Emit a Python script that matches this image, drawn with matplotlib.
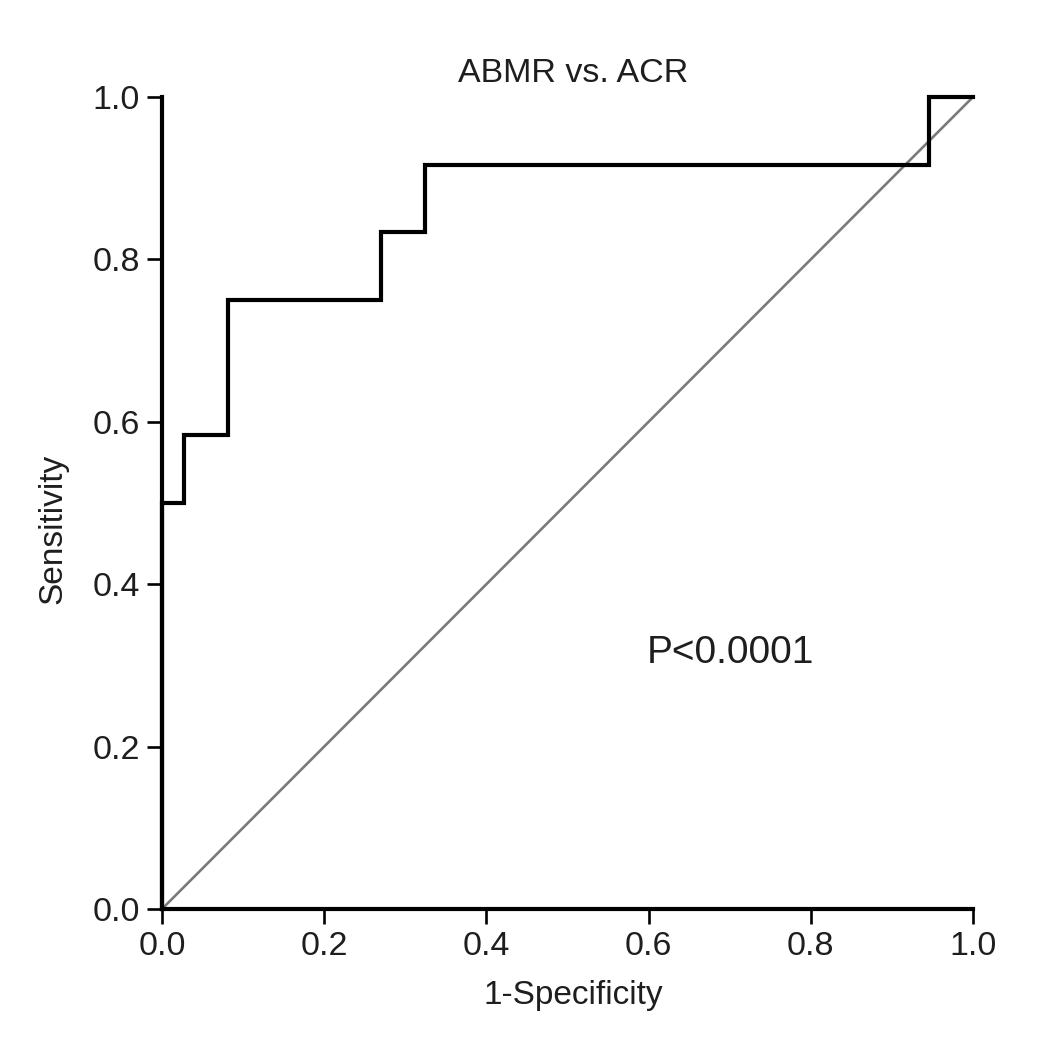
import matplotlib
matplotlib.use("Agg")
import matplotlib.pyplot as plt

plt.rcParams['font.family'] = ['Liberation Sans', 'DejaVu Sans']

# ROC step curve (37 negatives, 12 positives)
fpr = [0.0, 0.0, 1/37, 1/37, 3/37, 3/37, 10/37, 10/37, 12/37, 12/37, 35/37, 35/37, 1.0]
tpr = [0.0, 6/12, 6/12, 7/12, 7/12, 9/12, 9/12, 10/12, 10/12, 11/12, 11/12, 1.0, 1.0]
diag = [0.0, 1.0]
ticks = [0.0, 0.2, 0.4, 0.6, 0.8, 1.0]
tick_labels = ["0.0", "0.2", "0.4", "0.6", "0.8", "1.0"]

fig = plt.figure(figsize=(10.63, 10.49), dpi=100)
ax = fig.add_axes([0.1524, 0.1335, 0.9153 - 0.1524, 0.9075 - 0.1335])

ax.plot(diag, diag, color="#7a7a7a", lw=1.9, solid_capstyle="butt", zorder=2)
ax.plot(fpr, tpr, color="black", lw=3.0, solid_joinstyle="miter", zorder=3, clip_on=False)

ax.set_xlim(0, 1)
ax.set_ylim(0, 1)
ax.set_xticks(ticks)
ax.set_xticklabels(tick_labels)
ax.set_yticks(ticks)
ax.set_yticklabels(tick_labels)
for s in ["top", "right"]:
    ax.spines[s].set_visible(False)
for s in ["left", "bottom"]:
    ax.spines[s].set_linewidth(3.0)
ax.tick_params(direction="out", length=11, width=1.9, labelsize=24.5, pad=5,
               colors="black", labelcolor="#1e1e1e")

ax.set_xlabel("1-Specificity", fontsize=24, labelpad=14, color="#1e1e1e")
ax.xaxis.set_label_coords(0.507, -0.088)
ax.set_ylabel("Sensitivity", fontsize=24, labelpad=16, color="#1e1e1e")
ax.yaxis.set_label_coords(-0.115, 0.468)
ax.set_title("ABMR vs. ACR", fontsize=24.5, pad=11, color="#1e1e1e", x=0.507)
ax.text(0.598, 0.315, "P<0.0001", fontsize=28, ha="left", va="center", color="#1e1e1e",
        transform=ax.transAxes)

fig.savefig("out.png", dpi=100)
